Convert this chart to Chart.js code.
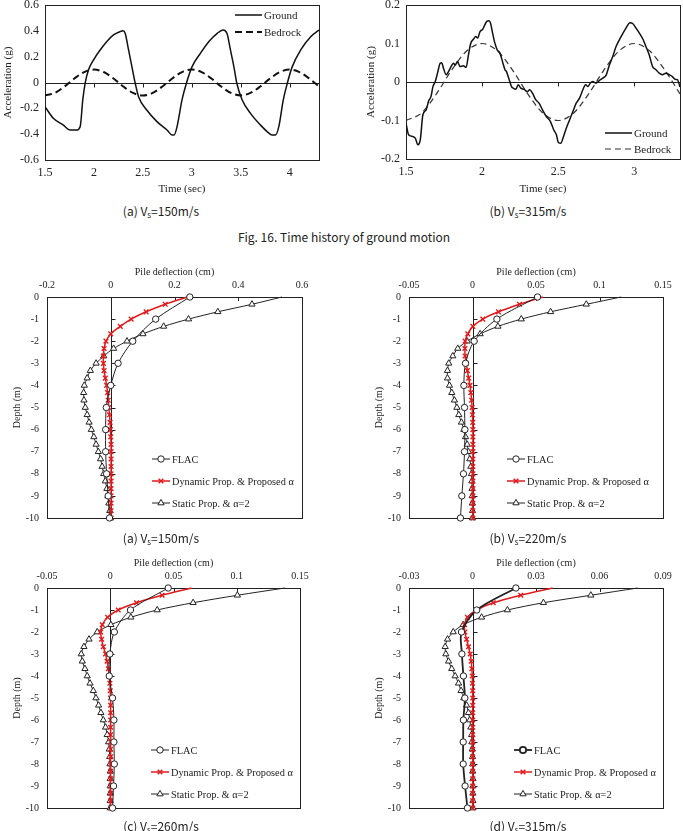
<!DOCTYPE html>
<html lang="en">
<head>
<meta charset="UTF-8">
<title>Time history of ground motion / pile deflection</title>
<script src="https://cdn.jsdelivr.net/npm/chart.js"></script>
<style>
    body { margin: 0; width: 683px; height: 831px; position: relative; overflow: hidden; background: #fff; }
    canvas { position: absolute; }
    .cap { position: absolute; transform: translate(-50%, -50%); white-space: nowrap;
           font-family: "Noto Sans CJK KR", "Noto Sans", sans-serif; font-size: 12px; color: #222; }
    .cap sub { font-size: 8px; vertical-align: -2px; }
</style>
</head>
<body>
<canvas id="accA" width="330" height="198" style="left:0;top:0"></canvas>
<canvas id="accB" width="323" height="198" style="left:360px;top:0"></canvas>
<canvas id="pileA" width="320" height="276" style="left:0;top:258px"></canvas>
<canvas id="pileB" width="321" height="276" style="left:362px;top:258px"></canvas>
<canvas id="pileC" width="320" height="276" style="left:0;top:549px"></canvas>
<canvas id="pileD" width="321" height="276" style="left:362px;top:549px"></canvas>

<div class="cap" style="left:161px;top:211px">(a) V<sub>s</sub>=150m/s</div>
<div class="cap" style="left:528px;top:211px">(b) V<sub>s</sub>=315m/s</div>
<div class="cap" style="left:344px;top:236px">Fig. 16. Time history of ground motion</div>
<div class="cap" style="left:161px;top:538px">(a) V<sub>s</sub>=150m/s</div>
<div class="cap" style="left:528px;top:538px">(b) V<sub>s</sub>=220m/s</div>
<div class="cap" style="left:161px;top:826px">(c) V<sub>s</sub>=260m/s</div>
<div class="cap" style="left:528px;top:826px">(d) V<sub>s</sub>=315m/s</div>

<script>
// ---- time history, Vs=150 ----
const g1T = [1.5,1.585,1.688,1.756,1.824,1.86,1.886,1.91,1.944,1.995,2.064,2.13,2.2,2.268,2.296,2.32,2.354,2.388,2.422,2.456,2.54,2.644,2.747,2.798,2.82,2.85,2.9,2.945,3.003,3.088,3.173,3.26,3.32,3.36,3.395,3.43,3.46,3.515,3.6,3.703,3.77,3.822,3.856,3.89,3.935,3.976,4.027,4.113,4.215,4.3];
const g1A = [-0.187,-0.277,-0.33,-0.368,-0.368,-0.34,-0.135,-0.006,0.097,0.174,0.252,0.316,0.368,0.394,0.4,0.38,0.252,0.123,-0.006,-0.11,-0.213,-0.303,-0.368,-0.406,-0.406,-0.34,-0.135,-0.006,0.123,0.226,0.316,0.381,0.406,0.38,0.252,0.123,-0.006,-0.135,-0.239,-0.33,-0.38,-0.406,-0.406,-0.34,-0.135,-0.006,0.123,0.252,0.355,0.406];
const b1T = [1.5,1.6,1.7,1.8,1.9,2.0,2.1,2.2,2.3,2.4,2.5,2.6,2.7,2.8,2.9,3.0,3.1,3.2,3.3,3.4,3.5,3.6,3.7,3.8,3.9,4.0,4.1,4.2,4.3];
const b1A = [-0.1,-0.081,-0.031,0.031,0.081,0.1,0.081,0.031,-0.031,-0.081,-0.1,-0.081,-0.031,0.031,0.081,0.1,0.081,0.031,-0.031,-0.081,-0.1,-0.081,-0.031,0.031,0.081,0.1,0.081,0.031,-0.031];
const t1Ticks = [1.5,2,2.5,3,3.5,4];
const a1Ticks = [0.6,0.4,0.2,0,-0.2,-0.4,-0.6];

// ---- time history, Vs=315 ----
const g2T = [1.5,1.517,1.539,1.561,1.578,1.594,1.611,1.633,1.648,1.664,1.677,1.692,1.707,1.725,1.735,1.746,1.764,1.779,1.796,1.812,1.823,1.838,1.855,1.877,1.895,1.91,1.925,1.943,1.958,1.971,1.986,2.004,2.015,2.03,2.045,2.056,2.069,2.084,2.1,2.117,2.134,2.15,2.16,2.178,2.193,2.204,2.222,2.237,2.254,2.276,2.296,2.313,2.331,2.352,2.374,2.396,2.422,2.448,2.47,2.488,2.501,2.518,2.531,2.553,2.575,2.597,2.618,2.64,2.662,2.68,2.695,2.71,2.727,2.749,2.771,2.793,2.815,2.836,2.858,2.88,2.913,2.945,2.971,2.989,3.011,3.033,3.059,3.076,3.098,3.12,3.142,3.163,3.185,3.207,3.229,3.25,3.268,3.283,3.3];
const g2A = [-0.107,-0.137,-0.141,-0.146,-0.163,-0.15,-0.085,-0.072,-0.05,-0.038,-0.012,0.001,0.023,0.049,0.05,0.036,0.019,0.027,0.04,0.049,0.044,0.053,0.04,0.042,0.038,0.07,0.1,0.111,0.118,0.114,0.131,0.137,0.146,0.157,0.159,0.152,0.127,0.101,0.083,0.075,0.053,0.032,0.027,0.006,-0.012,-0.016,-0.019,-0.007,-0.016,-0.019,-0.025,-0.02,-0.029,-0.046,-0.055,-0.072,-0.09,-0.102,-0.124,-0.137,-0.157,-0.159,-0.146,-0.12,-0.098,-0.076,-0.055,-0.042,-0.02,-0.007,-0.012,-0.003,0.001,-0.003,0.004,0.01,0.018,0.044,0.066,0.092,0.118,0.14,0.154,0.152,0.14,0.127,0.109,0.092,0.07,0.04,0.032,0.023,0.019,0.023,0.019,0.014,0.007,0.006,-0.013];
const b2T = [1.5,1.6,1.7,1.8,1.9,2.0,2.1,2.2,2.3,2.4,2.5,2.6,2.7,2.8,2.9,3.0,3.1,3.2,3.3];
const b2A = [-0.1,-0.081,-0.031,0.031,0.081,0.1,0.081,0.031,-0.031,-0.081,-0.1,-0.081,-0.031,0.031,0.081,0.1,0.081,0.031,-0.031];
const t2Ticks = [1.5,2,2.5,3];
const a2Ticks = [0.2,0.1,0,-0.1,-0.2];

// ---- pile deflection (cm) vs depth (m) ----
const depthFlac = [0,-1,-2,-3,-4,-5,-6,-7,-8,-9,-10];
const depthFine = [0,-0.33,-0.67,-1,-1.33,-1.67,-2,-2.33,-2.67,-3,-3.33,-3.67,-4,-4.33,-4.67,-5,-5.33,-5.67,-6,-6.33,-6.67,-7,-7.33,-7.67,-8,-8.33,-8.67,-9,-9.33,-9.67,-10];
const depthTicks = [0,-1,-2,-3,-4,-5,-6,-7,-8,-9,-10];

const flac150 = [0.248,0.141,0.069,0.023,0.0,-0.014,-0.016,-0.016,-0.013,-0.008,-0.004];
const dyn150 = [0.24,0.171,0.111,0.064,0.03,0.0,-0.015,-0.021,-0.023,-0.023,-0.021,-0.017,-0.013,-0.01,-0.008,-0.006,-0.004,-0.002,-0.001,0,0.001,0.001,0.001,0.001,0.001,0.001,0.001,0.001,0.001,0.001,0.001];
const stat150 = [0.537,0.443,0.336,0.244,0.166,0.101,0.051,0.009,-0.022,-0.046,-0.064,-0.074,-0.083,-0.085,-0.084,-0.08,-0.074,-0.068,-0.061,-0.053,-0.046,-0.039,-0.032,-0.027,-0.022,-0.017,-0.012,-0.009,-0.006,-0.003,-0.001];
const ticks150 = [-0.2,0,0.2,0.4,0.6];

const flac220 = [0.0512,0.0192,0.0013,-0.0055,-0.0068,-0.0063,-0.006,-0.0063,-0.0071,-0.0084,-0.0095];
const dyn220 = [0.0554,0.037,0.0205,0.0081,0.0003,-0.0037,-0.0058,-0.006,-0.0058,-0.005,-0.004,-0.003,-0.002,-0.0013,-0.0007,-0.0003,0,0.0002,0.0003,0.0003,0.0003,0.0003,0.0003,0.0003,0.0003,0.0003,0.0003,0.0003,0.0003,0.0003,0.0003];
const stat220 = [0.117,0.0896,0.0615,0.0384,0.02,0.006,-0.0042,-0.0116,-0.0155,-0.0187,-0.0197,-0.0197,-0.0181,-0.0163,-0.0142,-0.0123,-0.0108,-0.0087,-0.0068,-0.0055,-0.0042,-0.0032,-0.0021,-0.0013,-0.0008,-0.0005,-0.0003,-0.0002,-0.0001,0,0];
const ticks220 = [-0.05,0,0.05,0.1,0.15];

const flac260 = [0.0458,0.016,0.0032,-0.0003,-0.0008,0.0018,0.0029,0.0029,0.0032,0.0026,0.0018];
const dyn260 = [0.0642,0.041,0.0208,0.0063,-0.0021,-0.0063,-0.0076,-0.0068,-0.0055,-0.0037,-0.0025,-0.0015,-0.0008,-0.0003,0,0.0002,0.0003,0.0003,0.0003,0.0003,0.0003,0.0003,0.0003,0.0003,0.0003,0.0003,0.0003,0.0003,0.0003,0.0003,0.0003];
const stat260 = [0.138,0.1005,0.0655,0.0371,0.0163,0.0005,-0.0103,-0.0168,-0.0208,-0.0229,-0.0221,-0.02,-0.0182,-0.016,-0.0134,-0.0113,-0.0092,-0.0074,-0.0055,-0.0037,-0.0024,-0.0013,-0.0008,-0.0004,-0.0002,0,0,0,0,0,0];
const ticks260 = [-0.05,0,0.05,0.1,0.15];

const flac315 = [0.0205,0.002,-0.0052,-0.005,-0.0043,-0.0036,-0.0043,-0.0044,-0.0044,-0.0035,-0.0024];
const dyn315 = [0.0378,0.0228,0.0098,0.002,-0.0024,-0.0038,-0.0036,-0.0028,-0.0019,-0.0011,-0.0006,-0.0003,-0.0001,0,0.0001,0.0001,0.0001,0.0001,0.0001,0.0001,0.0001,0.0001,0.0001,0.0001,0.0001,0.0001,0.0001,0.0001,0.0001,0.0001,0.0001];
const stat315 = [0.078,0.0559,0.0335,0.0165,0.0043,-0.0044,-0.0091,-0.0118,-0.0129,-0.0126,-0.0113,-0.0098,-0.0082,-0.0066,-0.0054,-0.0041,-0.0028,-0.0019,-0.0013,-0.0008,-0.0004,-0.0003,-0.0001,0,0.0001,0.0001,0.0002,0.0002,0.0002,0.0002,0.0002];
const ticks315 = [-0.03,0,0.03,0.06,0.09];

const SERIF = '"Liberation Serif", "Times New Roman", serif';
const INK = '#222';
const RED = '#e31a1c';

function xy(xs, ys) { return xs.map((v, i) => ({ x: v, y: ys[i] })); }
function fixTicks(list) { return s => { s.ticks = list.map(v => ({ value: v })); }; }
function fixSize(size) {
    return s => {
        if (s.isHorizontal()) s.height = size; else s.width = size;
        s.paddingTop = s.paddingBottom = s.paddingLeft = s.paddingRight = 0;
    };
}

// plot frame, zero axis and its tick marks
const framePlugin = {
    id: 'frame',
    beforeDatasetsDraw(chart, args, opts) {
        const { ctx, chartArea: a, scales: { x, y } } = chart;
        ctx.save();
        ctx.strokeStyle = INK;
        ctx.lineWidth = 1;
        ctx.beginPath();
        if (opts.zero === 'y') {
            const py = Math.round(y.getPixelForValue(0)) + 0.5;
            ctx.moveTo(a.left, py); ctx.lineTo(a.right, py);
            x.ticks.forEach(t => {
                const px = Math.round(x.getPixelForValue(t.value)) + 0.5;
                ctx.moveTo(px, py); ctx.lineTo(px, py + 4);
            });
        } else {
            const px = Math.round(x.getPixelForValue(0)) + 0.5;
            ctx.moveTo(px, a.top); ctx.lineTo(px, a.bottom);
            y.ticks.forEach(t => {
                const py = Math.round(y.getPixelForValue(t.value)) + 0.5;
                ctx.moveTo(px, py); ctx.lineTo(px + 4, py);
            });
            x.ticks.forEach(t => {
                const tx = Math.round(x.getPixelForValue(t.value)) + 0.5;
                ctx.moveTo(tx, a.top); ctx.lineTo(tx, a.top + 4);
            });
        }
        ctx.stroke();
        ctx.strokeRect(Math.round(a.left) + 0.5, Math.round(a.top) + 0.5, Math.round(a.width), Math.round(a.height));
        ctx.restore();
    }
};

// legend drawn inside the plot area
const keyPlugin = {
    id: 'key',
    afterDatasetsDraw(chart, args, opts) {
        const { ctx, chartArea: a } = chart;
        chart.data.datasets.forEach((ds, i) => {
            const x0 = a.left + opts.x, y0 = a.top + opts.y + i * opts.gap;
            ctx.save();
            ctx.strokeStyle = ds.borderColor;
            ctx.lineWidth = ds.borderWidth;
            ctx.setLineDash(ds.borderDash || []);
            ctx.beginPath();
            ctx.moveTo(x0, y0); ctx.lineTo(x0 + opts.len, y0);
            ctx.stroke();
            ctx.setLineDash([]);
            if (ds.markR) {
                ctx.fillStyle = ds.pointBackgroundColor;
                ctx.strokeStyle = ds.pointBorderColor;
                Chart.helpers.drawPoint(ctx, { pointStyle: ds.pointStyle, rotation: 0, radius: ds.markR, borderWidth: ds.pointBorderWidth }, x0 + opts.len / 2, y0);
            }
            ctx.fillStyle = INK;
            ctx.font = opts.size + 'px ' + SERIF;
            ctx.textBaseline = 'middle';
            ctx.fillText(ds.label, x0 + opts.len + 2, y0 + 1);
            ctx.restore();
        });
    }
};

function accChart(id, c) {
    return new Chart(document.getElementById(id), {
        type: 'scatter',
        data: {
            datasets: [
                { label: 'Ground', data: xy(c.gt, c.ga), showLine: true, borderColor: '#111', borderWidth: 1.5,
                  pointRadius: 0, cubicInterpolationMode: 'monotone' },
                { label: 'Bedrock', data: xy(c.bt, c.ba), showLine: true, borderColor: c.dashColor, borderWidth: c.dashWidth,
                  borderDash: c.dash, pointRadius: 0, cubicInterpolationMode: 'monotone' }
            ]
        },
        options: {
            responsive: false, animation: false, events: [],
            layout: { padding: c.pad },
            scales: {
                x: {
                    type: 'linear', min: 1.5, max: c.xMax,
                    afterBuildTicks: fixTicks(c.xTicks), afterFit: fixSize(c.xH),
                    grid: { display: false, drawTicks: false }, border: { display: false },
                    ticks: { autoSkip: false, padding: 6, color: INK, font: { family: SERIF, size: 12 }, callback: v => String(v) },
                    title: { display: true, text: 'Time (sec)', color: INK, font: { family: SERIF, size: 11 }, padding: { top: 0, bottom: 2 } }
                },
                y: {
                    type: 'linear', min: c.yTicks[c.yTicks.length - 1], max: c.yTicks[0],
                    afterBuildTicks: fixTicks(c.yTicks), afterFit: fixSize(c.yW),
                    grid: { display: false, drawTicks: false }, border: { display: false },
                    ticks: { autoSkip: false, padding: 6, color: INK, font: { family: SERIF, size: 12 }, callback: v => String(v) },
                    title: { display: true, text: 'Acceleration (g)', color: INK, font: { family: SERIF, size: 11 }, padding: { top: c.yTitlePad, bottom: 0 } }
                }
            },
            plugins: {
                legend: { display: false }, tooltip: { enabled: false },
                frame: { zero: 'y' },
                key: c.key
            }
        },
        plugins: [framePlugin, keyPlugin]
    });
}

function pileChart(id, c) {
    const hideFirst = r => (ctx => ctx.dataIndex === 0 ? 0 : r);
    return new Chart(document.getElementById(id), {
        type: 'scatter',
        data: {
            datasets: [
                { label: 'FLAC', data: xy(c.flac, depthFlac), showLine: true, tension: 0.3, clip: false,
                  borderColor: INK, borderWidth: c.flacWidth || 1,
                  pointStyle: 'circle', pointRadius: 3.2, markR: 3.2, pointBorderWidth: 1,
                  pointBorderColor: INK, pointBackgroundColor: '#fff' },
                { label: 'Dynamic Prop. & Proposed \u03b1', data: xy(c.dyn, depthFine), showLine: true, tension: 0.3, clip: false,
                  borderColor: RED, borderWidth: 1.5,
                  pointStyle: 'crossRot', pointRadius: hideFirst(3.3), markR: 3.3, pointBorderWidth: 1.4,
                  pointBorderColor: RED, pointBackgroundColor: RED },
                { label: 'Static Prop. & \u03b1=2', data: xy(c.stat, depthFine), showLine: true, tension: 0.3, clip: false,
                  borderColor: INK, borderWidth: 1,
                  pointStyle: 'triangle', pointRadius: hideFirst(3.6), markR: 3.6, pointBorderWidth: 1,
                  pointBorderColor: INK, pointBackgroundColor: '#fff' }
            ]
        },
        options: {
            responsive: false, animation: false, events: [],
            layout: { padding: c.pad },
            scales: {
                x: {
                    type: 'linear', position: 'top', min: c.xTicks[0], max: c.xTicks[c.xTicks.length - 1],
                    afterBuildTicks: fixTicks(c.xTicks), afterFit: fixSize(39),
                    grid: { display: false, drawTicks: false }, border: { display: false },
                    ticks: { autoSkip: false, padding: 6, color: INK, font: { family: SERIF, size: 10 }, callback: v => String(v) },
                    title: { display: true, text: 'Pile deflection (cm)', color: INK, font: { family: SERIF, size: 10 }, padding: { top: 8, bottom: 0 } }
                },
                y: {
                    type: 'linear', min: -10, max: 0,
                    afterBuildTicks: fixTicks(depthTicks), afterFit: fixSize(47),
                    grid: { display: false, drawTicks: false }, border: { display: false },
                    ticks: { autoSkip: false, padding: 8, color: INK, font: { family: SERIF, size: 10 }, callback: v => String(v) },
                    title: { display: true, text: 'Depth (m)', color: INK, font: { family: SERIF, size: 10 }, padding: { top: 11, bottom: 0 } }
                }
            },
            plugins: {
                legend: { display: false }, tooltip: { enabled: false },
                frame: { zero: 'x' },
                key: { x: c.keyX, y: 162, gap: 22, len: 18, size: 10.3 }
            }
        },
        plugins: [framePlugin, keyPlugin]
    });
}

accChart('accA', {
    gt: g1T, ga: g1A, bt: b1T, ba: b1A, xMax: 4.3, xTicks: t1Ticks, yTicks: a1Ticks,
    dash: [7, 4], dashWidth: 2, dashColor: '#111',
    pad: { left: 0, top: 5, right: 11, bottom: 0 }, xH: 38, yW: 45, yTitlePad: 2,
    key: { x: 190, y: 10, gap: 17, len: 27, size: 11 }
});
accChart('accB', {
    gt: g2T, ga: g2A, bt: b2T, ba: b2A, xMax: 3.3, xTicks: t2Ticks, yTicks: a2Ticks,
    dash: [6, 4], dashWidth: 1.2, dashColor: '#333',
    pad: { left: 0, top: 5, right: 3, bottom: 0 }, xH: 39, yW: 46, yTitlePad: 5,
    key: { x: 199, y: 128, gap: 16, len: 27, size: 11 }
});

pileChart('pileA', { flac: flac150, dyn: dyn150, stat: stat150, xTicks: ticks150, keyX: 105,
    pad: { left: 0, top: 0, right: 18, bottom: 16 } });
pileChart('pileB', { flac: flac220, dyn: dyn220, stat: stat220, xTicks: ticks220, keyX: 98,
    pad: { left: 0, top: 0, right: 20, bottom: 16 } });
pileChart('pileC', { flac: flac260, dyn: dyn260, stat: stat260, xTicks: ticks260, keyX: 104,
    pad: { left: 0, top: 0, right: 20, bottom: 17 } });
pileChart('pileD', { flac: flac315, dyn: dyn315, stat: stat315, xTicks: ticks315, keyX: 105, flacWidth: 1.8,
    pad: { left: 0, top: 0, right: 20, bottom: 17 } });
</script>
</body>
</html>
